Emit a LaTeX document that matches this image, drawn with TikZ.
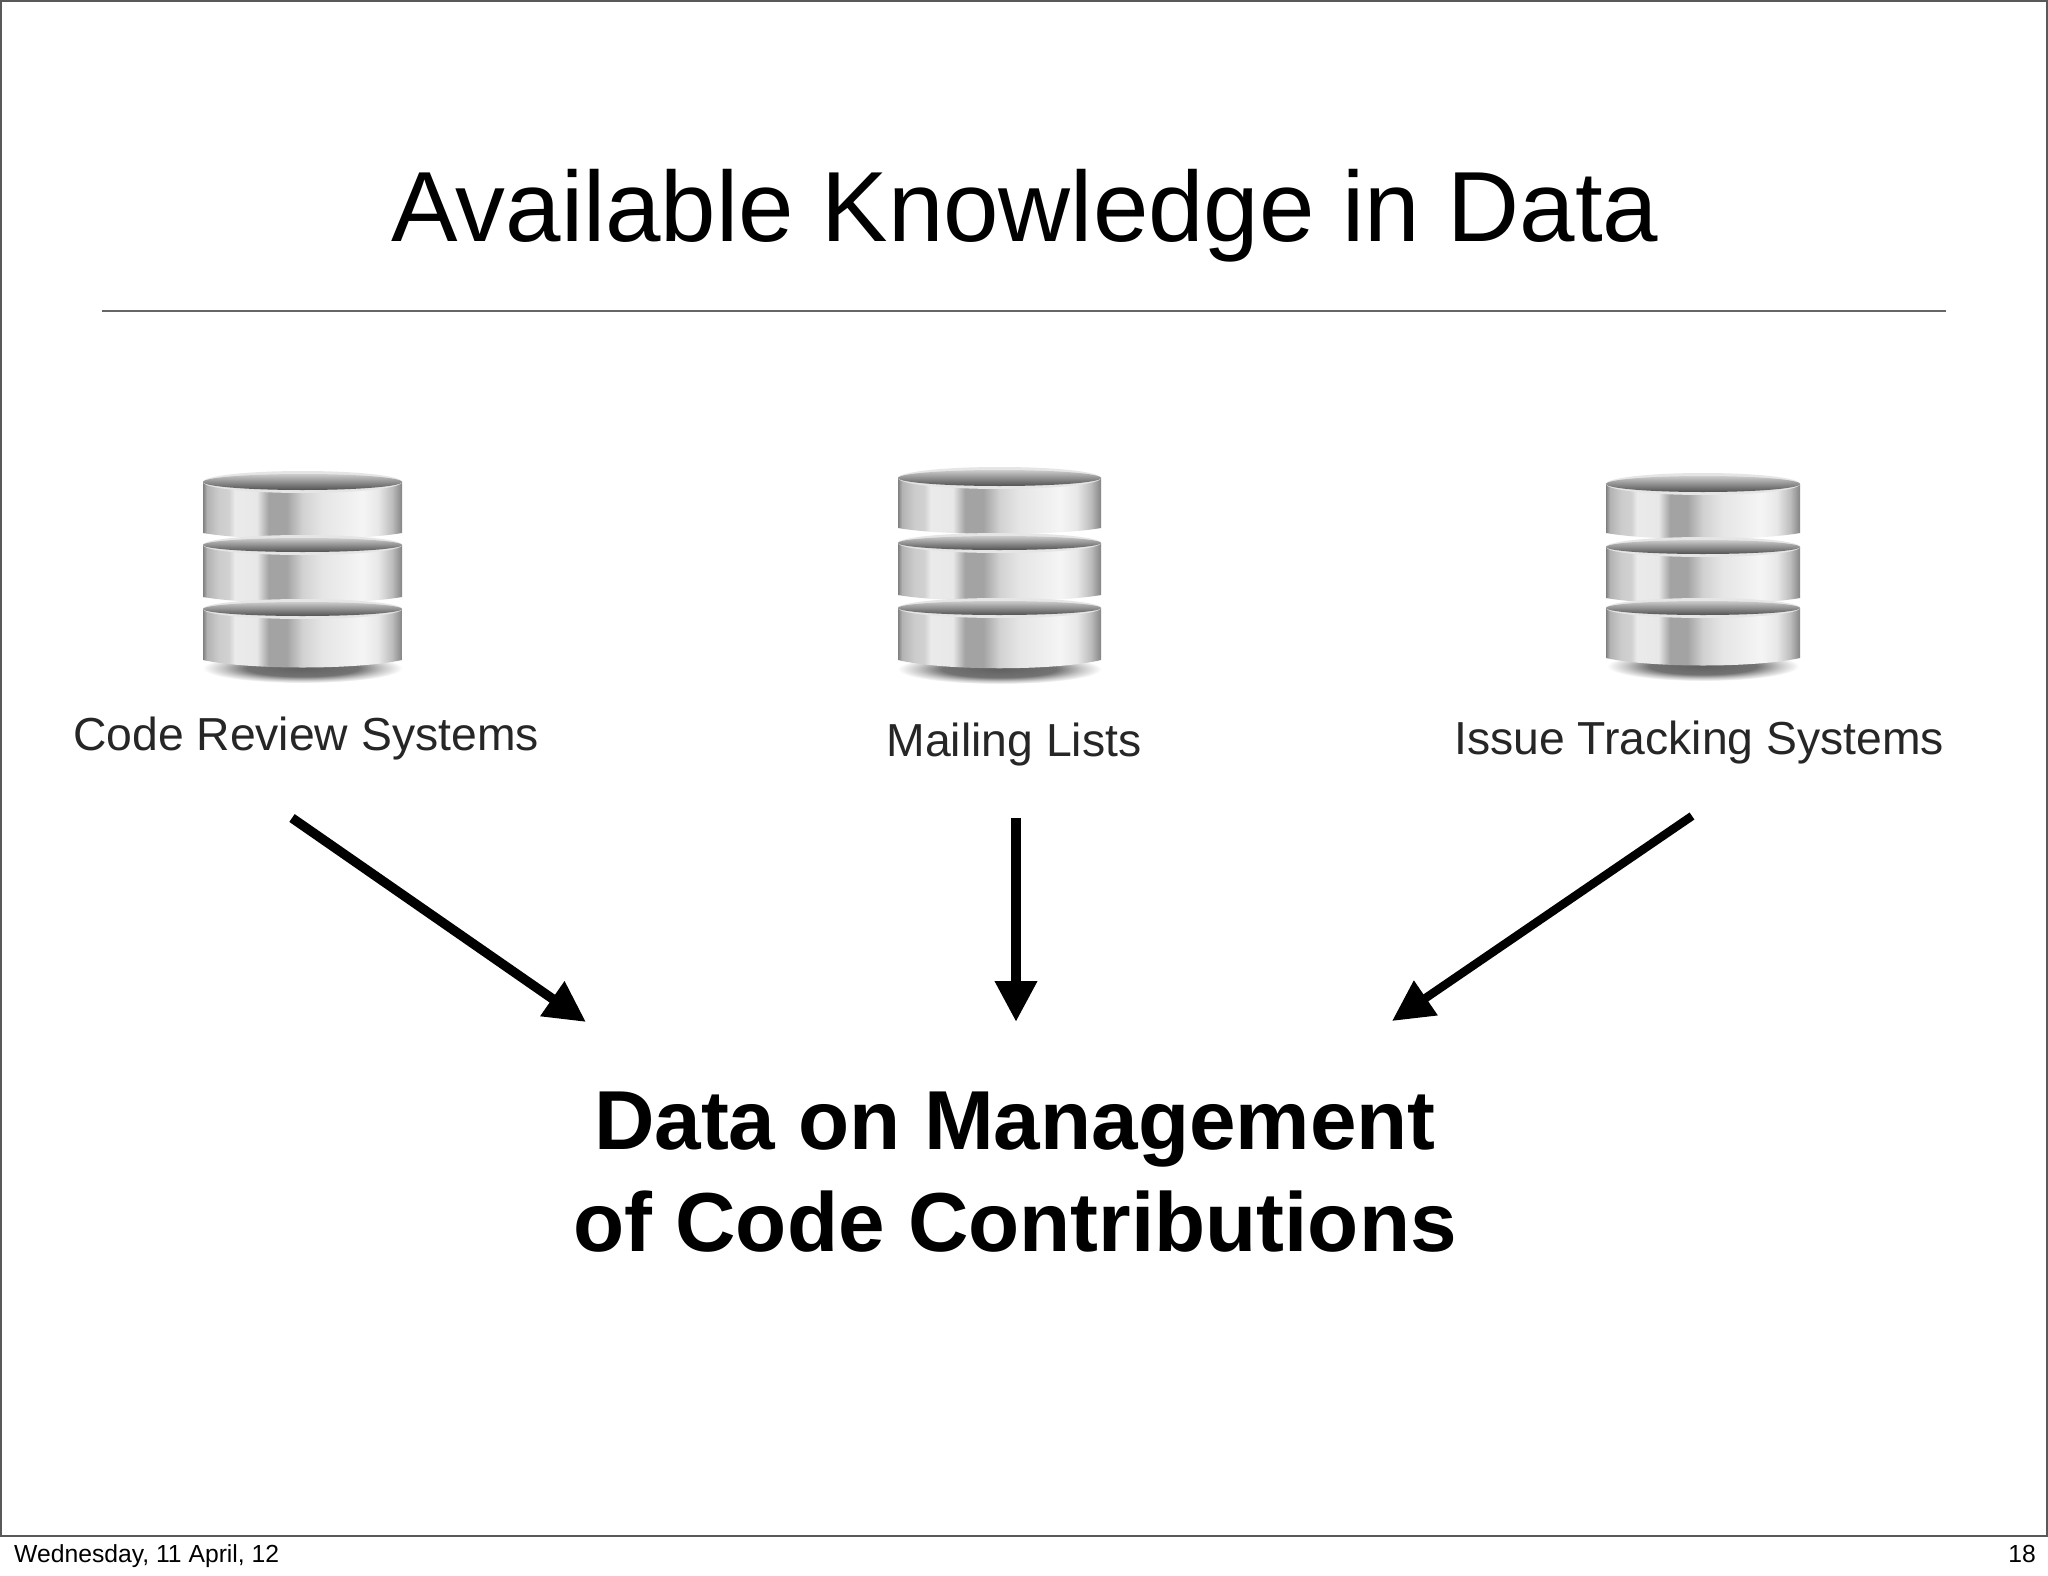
\documentclass[tikz,border=0pt]{standalone}
\usepackage{fontspec}
\setmainfont{Liberation Sans}
\usetikzlibrary{arrows.meta}
\pgfdeclarehorizontalshading{metal}{100bp}{
 color(0bp)=(black!50);color(25bp)=(black!50);color(26bp)=(black!30);color(29bp)=(black!20);color(31.5bp)=(black!18);color(33bp)=(black!8);color(38.5bp)=(black!9);color(41.5bp)=(black!36);color(46bp)=(black!36);color(50bp)=(black!18);color(55bp)=(black!10);color(65bp)=(black!4);color(69bp)=(black!9);color(72.5bp)=(black!26);color(75bp)=(black!48);color(100bp)=(black!48)}
\pgfdeclareradialshading{diskshadow}{\pgfpointorigin}{
 color(0bp)=(black!62);color(14bp)=(black!55);color(20bp)=(black!22);color(25bp)=(white);color(50bp)=(white)}
\tikzset{
  x=1pt,y=-1pt,
  titletext/.style={inner sep=0pt,font=\fontsize{99.7}{100}\selectfont},
  labeltext/.style={inner sep=0pt,font=\fontsize{46.3}{46}\selectfont,text=black!85},
  boldtext/.style={inner sep=0pt,align=center,font=\fontsize{83.7}{102}\selectfont\bfseries},
  foot/.style={inner sep=0pt,font=\fontsize{24.7}{25}\selectfont},
  bigarrow/.style={line width=#1,-{Triangle[length=41pt,width=40pt]}},
  frameline/.style={draw=black!65,line width=1.6pt},
  shadowblob/.style={shading=diskshadow},
}
% disk: #1 left, #2 right, #3 top of lid, #4 rim side y, #5 edge bottom y, #6 centre bottom y
\newcommand{\onedisk}[6]{%
  \shade[shading=metal]
    (#1,#4) -- (#2,#4) -- (#2,#5)
    .. controls (#2-45,#6+2) and (#1+45,#6+2) .. (#1,#5) -- cycle;
  \fill[white!90!black] ({(#1+#2)/2},#4) ellipse[x radius={(#2-#1)/2},y radius={#4-#3+3}];
  \shade[top color=black!20,middle color=black!27,bottom color=black!68]
    ({(#1+#2)/2},#4) ellipse[x radius={(#2-#1)/2},y radius={#4-#3}];
}
\begin{document}
\begin{tikzpicture}
\useasboundingbox (0,0) rectangle (2048,1576);
\fill[white] (0,0) rectangle (2048,1576);
\draw[frameline] (0.8,0.8) -- (2047.2,0.8) -- (2047.2,1536) -- (0.8,1536) -- cycle;
\node[titletext] (title) at (1025,216) {Available Knowledge in Data};
\coordinate (ruleL) at (102,310.5);
\coordinate (ruleR) at (1946,310.5);
\draw[black!60,line width=2pt] (ruleL) -- (ruleR);

% left stack
\shade[shadowblob] (302.5,668) ellipse[x radius=100,y radius=15];
\onedisk{203}{402}{474}{482}{533}{539}
\onedisk{203}{402}{538}{545}{597}{603}
\onedisk{203}{402}{602}{609}{660}{668}
% middle stack
\shade[shadowblob] (999.5,669) ellipse[x radius=102,y radius=15];
\onedisk{898}{1101}{470}{478}{528}{534}
\onedisk{898}{1101}{536}{543}{595}{601}
\onedisk{898}{1101}{601}{608}{660}{669}
% right stack
\shade[shadowblob] (1703,666) ellipse[x radius=96,y radius=15];
\onedisk{1606}{1800}{476}{484}{533}{539}
\onedisk{1606}{1800}{540}{547}{598}{604}
\onedisk{1606}{1800}{601}{608}{658}{666}

\node[labeltext] (crs) at (306,739) {Code Review Systems};
\node[labeltext] (ml) at (1014,745) {Mailing Lists};
\node[labeltext] (its) at (1699,743) {Issue Tracking Systems};

\node[boldtext] (data) at (1015,1172) {Data on Management\\of Code Contributions};

\coordinate (a1s) at (292,818); \coordinate (a1e) at (586,1022);
\coordinate (a2s) at (1016,818); \coordinate (a2e) at (1016,1022);
\coordinate (a3s) at (1692,816); \coordinate (a3e) at (1392,1021);
\draw[bigarrow=9.5pt] (a1s) -- (a1e);
\draw[bigarrow=10pt] (a2s) -- (a2e);
\draw[bigarrow=8.5pt] (a3s) -- (a3e);

\node[foot,anchor=base west] (date) at (14,1562) {Wednesday, 11 April, 12};
\node[foot,anchor=base east] (page) at (2036,1562) {18};
\end{tikzpicture}
\end{document}
